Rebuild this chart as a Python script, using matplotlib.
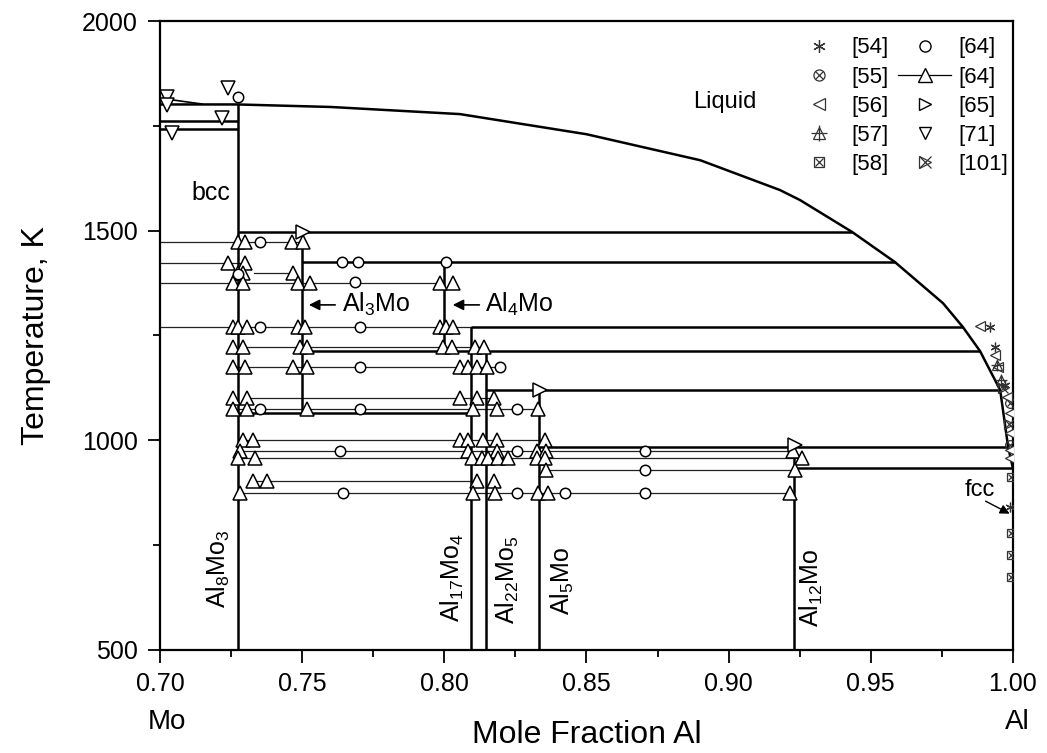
import matplotlib.pyplot as plt
from matplotlib.lines import Line2D
from matplotlib.ticker import MultipleLocator

plt.rcParams['font.family'] = ['Liberation Sans', 'DejaVu Sans']
plt.rcParams['mathtext.fontset'] = 'custom'
plt.rcParams['mathtext.rm'] = 'Liberation Sans'
plt.rcParams['mathtext.it'] = 'Liberation Sans'

# liquidus
liq_x = [0.700, 0.7273, 0.760, 0.8055, 0.850, 0.890, 0.918, 0.9251, 0.9434, 0.9585, 0.9754, 0.9824, 0.9884, 0.9955, 0.9983, 1.000]
liq_T = [1801, 1801, 1795, 1778, 1730, 1668, 1597, 1573, 1497, 1425, 1327, 1270, 1213, 1120, 984, 933]

# compounds (vertical lines)
comp_x = [8 / 11, 0.75, 0.80, 17 / 21, 22 / 27, 5 / 6, 12 / 13]
comp_top = [1801, 1497, 1425, 1270, 1212, 1120, 984]
comp_bot = [500, 1065, 1212, 500, 500, 500, 500]

# invariant reactions (thick horizontals)
inv_T = [1761, 1743, 1497, 1425, 1270, 1212, 1120, 1065, 984, 933]
inv_x0 = [0.700, 0.700, 8 / 11, 0.75, 17 / 21, 0.75, 22 / 27, 8 / 11, 5 / 6, 12 / 13]
inv_x1 = [8 / 11, 8 / 11, 0.9434, 0.9585, 0.9824, 0.9884, 0.9955, 17 / 21, 0.9983, 1.000]

# [64] tie lines with triangles
tie_T = [1473, 1424, 1399, 1375, 1271, 1223, 1176, 1101, 1075, 1001, 974, 958, 929, 903, 874]
tie_x0 = [0.700, 0.700, 0.733, 0.700, 0.700, 0.730, 0.725, 0.730, 0.725, 0.729, 0.728, 0.728, 0.835, 0.733, 0.728]
tie_x1 = [0.750, 0.730, 0.745, 0.800, 0.810, 0.814, 0.820, 0.817, 0.833, 0.835, 0.922, 0.925, 0.922, 0.812, 0.922]
tie_tri = [
    [0.7274, 0.7299, 0.7464, 0.7503],
    [0.7239, 0.7299],
    [0.7274, 0.7292, 0.7468],
    [0.7257, 0.7292, 0.7485, 0.7528, 0.7985, 0.8031],
    [0.7257, 0.7274, 0.7306, 0.7485, 0.7510, 0.7985, 0.8006, 0.8031],
    [0.7257, 0.7292, 0.7492, 0.7517, 0.7995, 0.8027, 0.8108, 0.8140],
    [0.7257, 0.7299, 0.7468, 0.7517, 0.8055, 0.8083, 0.8115, 0.8150],
    [0.7257, 0.7306, 0.8055, 0.8115, 0.8175],
    [0.7257, 0.7306, 0.7517, 0.8101, 0.8185, 0.8330],
    [0.7292, 0.7327, 0.8055, 0.8083, 0.8136, 0.8185, 0.8354],
    [0.7281, 0.8083, 0.8185, 0.8326, 0.8358, 0.9227],
    [0.7274, 0.7334, 0.8097, 0.8133, 0.8154, 0.8189, 0.8224, 0.8326, 0.8354, 0.9258],
    [0.8358, 0.9234],
    [0.7327, 0.7376, 0.8115, 0.8175],
    [0.7281, 0.8101, 0.8178, 0.8330, 0.8365, 0.9216],
]

# [64] circles
c64_x = [0.7274, 0.7352, 0.7640, 0.7696, 0.8006, 0.7274, 0.7686, 0.7352, 0.7703, 0.7703, 0.8196,
         0.7352, 0.7703, 0.8256, 0.7633, 0.8256, 0.8706, 0.8706, 0.7644, 0.8256, 0.8425, 0.8706]
c64_T = [1819, 1473, 1425, 1425, 1425, 1397, 1378, 1271, 1271, 1176, 1176,
         1075, 1075, 1075, 974, 974, 974, 929, 874, 874, 874, 874]

# other sources
r65_x = [0.7503, 0.8337, 0.9234]
r65_T = [1497, 1120, 989]
r71_x = [0.7025, 0.7025, 0.7239, 0.7218, 0.7042]
r71_T = [1819, 1800, 1840, 1769, 1733]
r54_x = [0.9919, 0.9937, 0.9972, 0.9990]
r54_T = [1270, 1223, 1132, 841]
r55_x = [0.9990, 0.9990]
r55_T = [1090, 990]
r56_x = [0.9884, 0.9937, 0.9947, 0.9979, 0.9990, 0.9990, 0.9990, 0.9990]
r56_T = [1273, 1203, 1175, 1103, 1065, 1017, 977, 958]
r57_x = [0.9944, 0.9958]
r57_T = [1180, 1145]
r58_x = [0.9993, 0.9993, 0.9993, 0.9993]
r58_T = [913, 779, 727, 674]
r101_x = [0.9965, 0.9986]
r101_T = [1125, 1040]

fig = plt.figure(figsize=(10.47, 7.53), dpi=100)
ax = fig.add_axes([0.1528, 0.1368, 0.8147, 0.8353])

thick = dict(color='black', lw=1.8, solid_capstyle='butt', zorder=3)
thin = dict(color='#222222', lw=0.9, zorder=2)
tri = dict(ls='none', marker='^', ms=10, mfc='white', mec='black', mew=1.1, zorder=5)
circ = dict(ls='none', marker='o', ms=7.5, mfc='white', mec='black', mew=1.1, zorder=5)
small = dict(ls='none', ms=7, mfc='none', mec='#333333', color='#333333', mew=0.9, zorder=5)

ax.plot(liq_x, liq_T, **thick)
ax.plot([0.700, 0.7148], [1816, 1802], color='black', lw=1.2, zorder=3)
for x, t0, t1 in zip(comp_x, comp_bot, comp_top):
    ax.plot([x, x], [t0, t1], **thick)
for t, x0, x1 in zip(inv_T, inv_x0, inv_x1):
    ax.plot([x0, x1], [t, t], **thick)

for t, x0, x1, xs in zip(tie_T, tie_x0, tie_x1, tie_tri):
    ax.plot([x0, x1], [t, t], **thin)
    ax.plot(xs, [t] * len(xs), **tri)

ax.plot(c64_x, c64_T, **circ)
ax.plot(r65_x, r65_T, ls='none', marker='>', ms=10, mfc='white', mec='black', mew=1.1, zorder=5)
ax.plot(r71_x, r71_T, ls='none', marker='v', ms=10, mfc='white', mec='black', mew=1.1, zorder=5)
ax.plot(r54_x, r54_T, marker=(6, 2, 0), **small)
ax.plot(r55_x, r55_T, marker='o', **small)
ax.plot(r55_x, r55_T, marker='x', **dict(small, ms=5))
ax.plot(r56_x, r56_T, marker='<', **dict(small, mfc='white'))
ax.plot(r57_x, r57_T, marker='^', **small)
ax.plot(r57_x, r57_T, marker='+', **dict(small, ms=9))
ax.plot(r58_x, r58_T, marker='s', **dict(small, ms=5.5))
ax.plot(r58_x, r58_T, marker='x', **dict(small, ms=4))
ax.plot(r101_x, r101_T, marker='>', **small)
ax.plot(r101_x, r101_T, marker='x', **small)

# axes
ax.set_xlim(0.70, 1.00)
ax.set_ylim(500, 2000)
ax.xaxis.set_major_locator(MultipleLocator(0.05))
ax.xaxis.set_minor_locator(MultipleLocator(0.025))
ax.yaxis.set_major_locator(MultipleLocator(500))
ax.yaxis.set_minor_locator(MultipleLocator(250))
ax.set_xticklabels([f'{v:.2f}' for v in ax.get_xticks()])
ax.tick_params(which='major', direction='out', length=9, width=1.3, labelsize=18, pad=7)
ax.tick_params(which='minor', direction='out', length=5, width=1.3)
ax.tick_params(top=False, right=False)
for s in ax.spines.values():
    s.set_linewidth(1.6)

ax.set_xlabel('Mole Fraction Al', fontsize=23)
ax.xaxis.set_label_coords(0.5, -0.111)
ax.set_ylabel('Temperature, K', fontsize=23)
ax.yaxis.set_label_coords(-0.128, 0.5)

bt = ax.get_xaxis_transform()
ax.text(0.7025, -0.1145, 'Mo', transform=bt, ha='center', va='center', fontsize=20)
ax.text(1.0015, -0.1145, 'Al', transform=bt, ha='center', va='center', fontsize=20)

# phase labels
ax.text(0.8874, 1807, 'Liquid', fontsize=17, ha='left', va='center')
ax.text(0.7179, 1590, 'bcc', fontsize=18, ha='center', va='center')
ax.text(0.9884, 882, 'fcc', fontsize=17, ha='center', va='center')
ax.annotate('', xy=(0.9997, 822), xytext=(0.9895, 858),
            arrowprops=dict(arrowstyle='-|>', color='black', lw=1.0, mutation_scale=14))
ax.text(0.7641, 1323, r'Al$_3$Mo', fontsize=18, ha='left', va='center')
ax.annotate('', xy=(0.7514, 1323), xytext=(0.7626, 1323),
            arrowprops=dict(arrowstyle='-|>', color='black', lw=1.2, mutation_scale=16))
ax.text(0.8143, 1323, r'Al$_4$Mo', fontsize=18, ha='left', va='center')
ax.annotate('', xy=(0.8020, 1323), xytext=(0.8133, 1323),
            arrowprops=dict(arrowstyle='-|>', color='black', lw=1.2, mutation_scale=16))

vlab_x = [0.7204, 0.8027, 0.8221, 0.8414, 0.9290]
vlab_T = [695, 672, 667, 665, 648]
vlab_s = [r'Al$_8$Mo$_3$', r'Al$_{17}$Mo$_4$', r'Al$_{22}$Mo$_5$', r'Al$_5$Mo', r'Al$_{12}$Mo']
for x, t, s in zip(vlab_x, vlab_T, vlab_s):
    ax.text(x, t, s, rotation=90, fontsize=18, ha='center', va='center')

# legend
k = dict(ls='none', color='#333333', mfc='none', mec='#333333', mew=0.9)
h54 = Line2D([], [], marker=(6, 2, 0), ms=9, **k)
h55 = (Line2D([], [], marker='o', ms=8, **k), Line2D([], [], marker='x', ms=5.5, **k))
h56 = Line2D([], [], marker='<', ms=9, **k)
h57 = (Line2D([], [], marker='^', ms=9, **k), Line2D([], [], marker='+', ms=11, **k))
h58 = (Line2D([], [], marker='s', ms=7.5, **k), Line2D([], [], marker='x', ms=5.5, **k))
h64c = Line2D([], [], marker='o', ms=8, ls='none', mfc='white', mec='black', mew=1.0)
h64t = Line2D([], [], marker='^', ms=10, ls='-', lw=0.9, color='black', mfc='white', mec='black', mew=1.0)
h65 = Line2D([], [], marker='>', ms=9, ls='none', mfc='white', mec='black', mew=1.0)
h71 = Line2D([], [], marker='v', ms=9, ls='none', mfc='white', mec='black', mew=1.0)
h101 = (Line2D([], [], marker='>', ms=9, **k), Line2D([], [], marker='x', ms=9, **k))
handles = [h54, h55, h56, h57, h58, h64c, h64t, h65, h71, h101]
labels = ['[54]', '[55]', '[56]', '[57]', '[58]', '[64]', '[64]', '[65]', '[71]', '[101]']
ax.legend(handles, labels, ncol=2, loc='upper right', bbox_to_anchor=(0.994, 0.974),
          frameon=False, fontsize=16, handlelength=2.4, handletextpad=0.3,
          columnspacing=0.4, labelspacing=0.37, borderpad=0, borderaxespad=0)

fig.savefig('out.png', dpi=100)
